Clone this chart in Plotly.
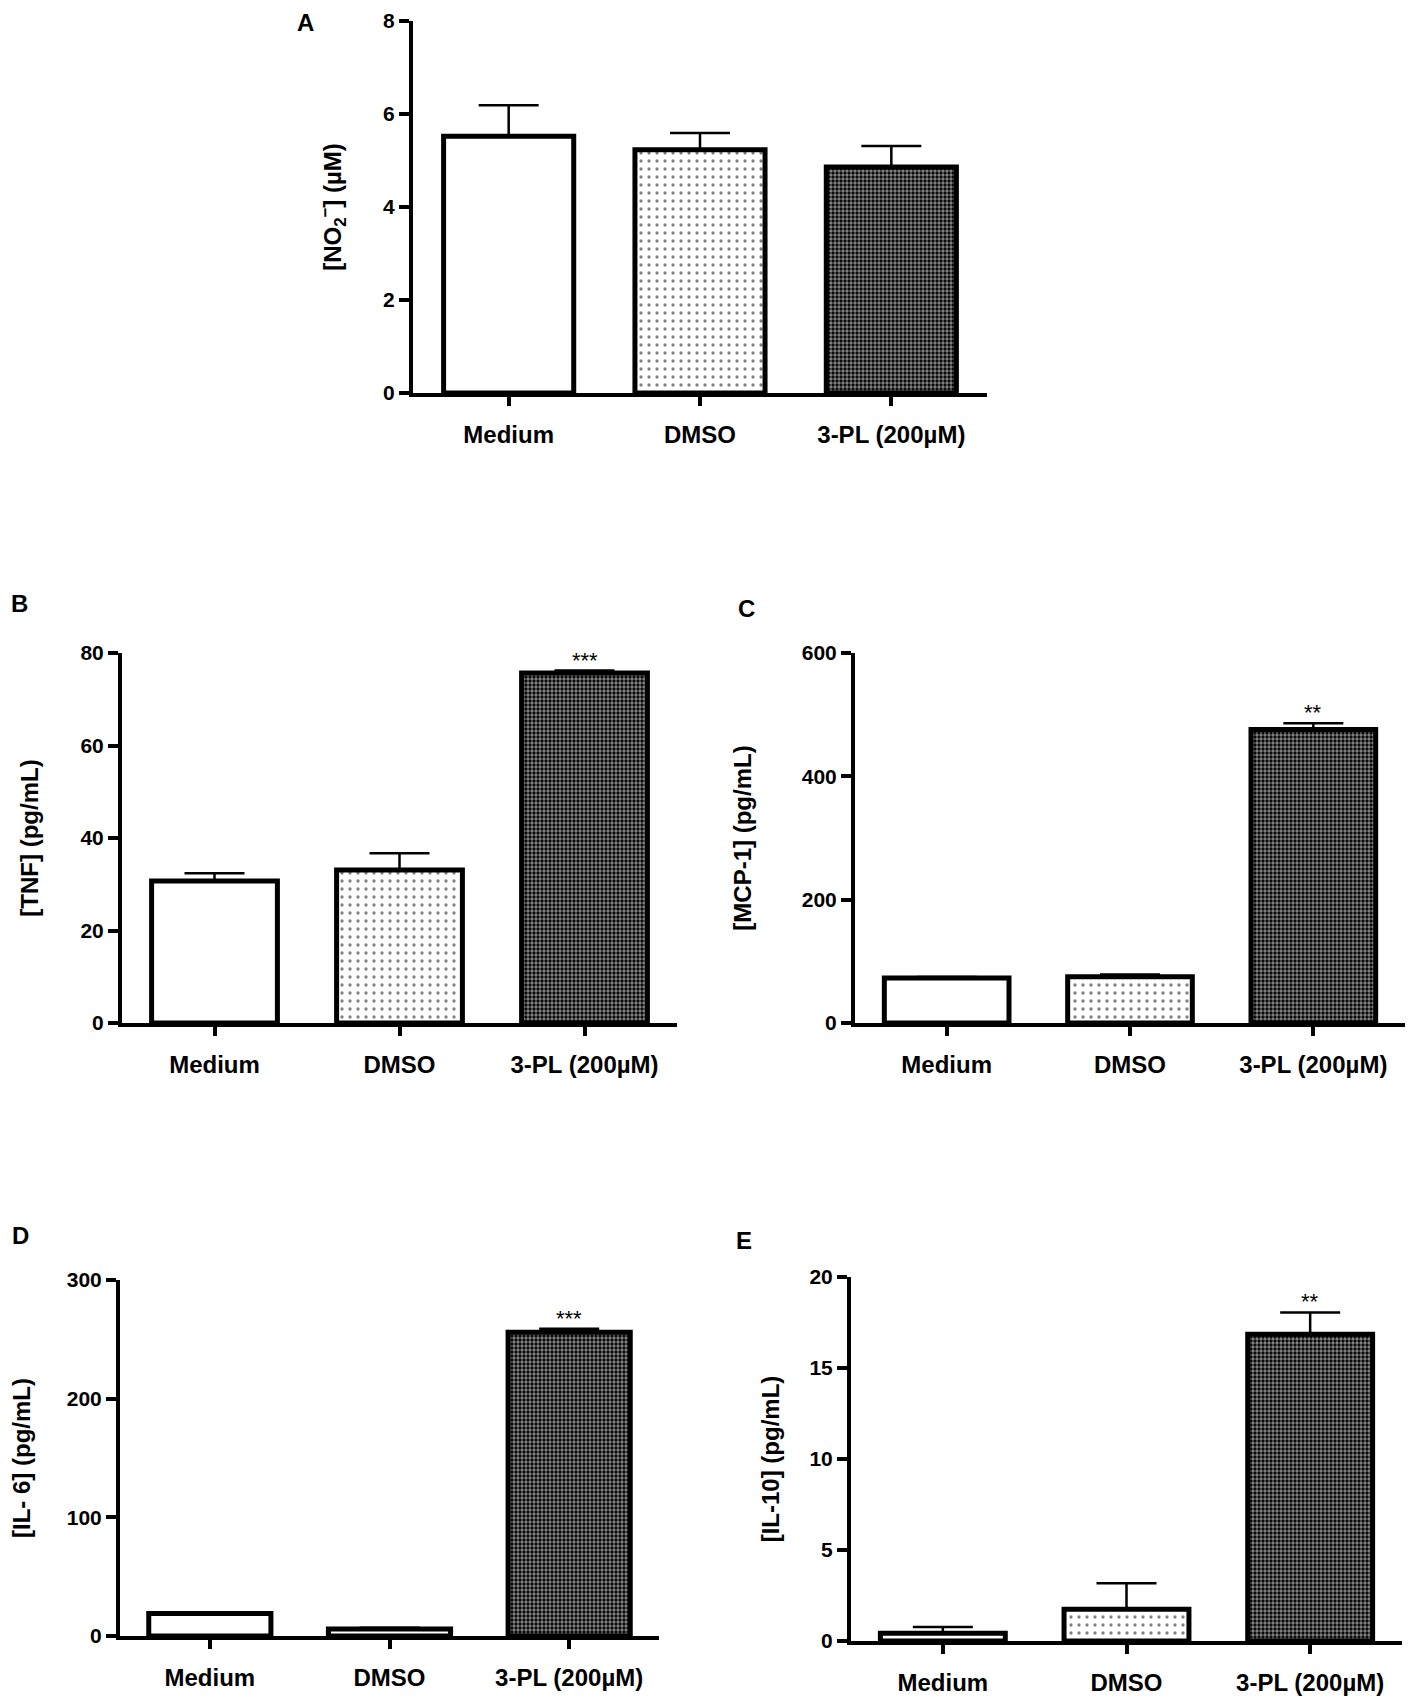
import plotly.graph_objects as go

# Données (moyenne + erreur vers le haut)
groupes = ["Medium", "DMSO", "3-PL (200µM)"]

no2_moy = [5.52, 5.23, 4.86]
no2_err = [0.67, 0.36, 0.45]

tnf_moy = [30.7, 33.1, 75.7]
tnf_err = [1.7, 3.6, 0.5]

mcp1_moy = [73, 75, 476]
mcp1_err = [1.5, 3.5, 10]

il6_moy = [19, 6, 256]
il6_err = [0.6, 1.0, 3]

il10_moy = [0.42, 1.74, 16.85]
il10_err = [0.35, 1.43, 1.2]

etoiles_tnf = ["", "", "***"]
etoiles_mcp1 = ["", "", "**"]
etoiles_il6 = ["", "", "***"]
etoiles_il10 = ["", "", "**"]

POLICE = "Liberation Sans, Arial, Helvetica, sans-serif"
# La page garde une marge de 8 px autour de la figure
DECALAGE = 8
W, H = 1417 - DECALAGE, 1700 - DECALAGE

# Motif de remplissage de chaque groupe (vide, points, damier)
motifs = [
    dict(shape="", bgcolor="white"),
    dict(shape=".", fgcolor="black", bgcolor="white", size=8,
         solidity=0.13, fillmode="overlay"),
    dict(shape=".", fgcolor="white", bgcolor="black", size=4,
         solidity=0.55, fillmode="overlay"),
]
couleurs = ["white", "white", "black"]


def px_x(a, b):
    return [(a - DECALAGE) / W, (b - DECALAGE) / W]


def px_y(haut, bas):
    return [1 - (bas - DECALAGE) / H, 1 - (haut - DECALAGE) / H]


fig = go.Figure()


# Définir la fonction pour tracer un panneau
def tracer_panneau(num, moyennes, erreurs, titre_y, ymax, pas, etoiles,
                   dom_x, dom_y, recul):
    xa = "x" if num == 1 else "x{}".format(num)
    ya = "y" if num == 1 else "y{}".format(num)

    # Une barre par groupe pour garder chaque motif
    for i, g in enumerate(groupes):
        fig.add_trace(go.Bar(
            x=[g], y=[moyennes[i]], width=0.68,
            marker=dict(color=couleurs[i],
                        line=dict(color="black", width=5),
                        pattern=motifs[i]),
            error_y=dict(type="data", symmetric=False, array=[erreurs[i]],
                         arrayminus=[0], color="black",
                         thickness=2.5, width=30),
            xaxis=xa, yaxis=ya, showlegend=False,
        ))

    # Étoiles de significativité
    for g, m, e, s in zip(groupes, moyennes, erreurs, etoiles):
        if s:
            fig.add_annotation(x=g, y=m + e, xref=xa, yref=ya, text=s,
                               showarrow=False, yanchor="bottom", yshift=-4,
                               font=dict(family=POLICE, size=22, color="black"))

    cle_x = "xaxis" if num == 1 else "xaxis{}".format(num)
    cle_y = "yaxis" if num == 1 else "yaxis{}".format(num)
    fig.update_layout({
        cle_x: dict(domain=dom_x, anchor=ya, range=[-0.5, 2.5],
                    categoryorder="array", categoryarray=groupes,
                    automargin=False,
                    showline=True, linewidth=4, linecolor="black",
                    ticks="outside", ticklen=9, tickwidth=4, tickcolor="black",
                    ticklabelstandoff=8, showgrid=False, zeroline=False,
                    tickfont=dict(family=POLICE, size=24, color="black",
                                  weight="bold")),
        cle_y: dict(domain=dom_y, anchor=xa, range=[0, ymax], dtick=pas,
                    tick0=0, automargin=False, ticklabeloverflow="allow",
                    showline=True, linewidth=4, linecolor="black",
                    ticks="outside", ticklen=10, tickwidth=4,
                    tickcolor="black", showgrid=False, zeroline=False,
                    tickfont=dict(family=POLICE, size=21, color="black",
                                  weight="bold"),
                    title=dict(text=titre_y, standoff=recul,
                               font=dict(family=POLICE, size=24,
                                         color="black", weight="bold"))),
    })


tracer_panneau(1, no2_moy, no2_err, "[NO<sub>2</sub><sup>−</sup>] (µM)",
               8, 2, ["", "", ""], px_x(413, 987), px_y(21, 393), 36)
tracer_panneau(2, tnf_moy, tnf_err, "[TNF] (pg/mL)", 80, 20, etoiles_tnf,
               px_x(122, 677), px_y(653, 1023), 36)
tracer_panneau(3, mcp1_moy, mcp1_err, "[MCP-1] (pg/mL)", 600, 200,
               etoiles_mcp1, px_x(855, 1405), px_y(653, 1023), 44)
tracer_panneau(4, il6_moy, il6_err, "[IL- 6] (pg/mL)", 300, 100, etoiles_il6,
               px_x(120, 659), px_y(1280, 1636), 36)
tracer_panneau(5, il10_moy, il10_err, "[IL-10] (pg/mL)", 20, 5, etoiles_il10,
               px_x(851, 1402), px_y(1277, 1641), 24)

# Lettres des panneaux (A collée en haut de la page)
lettres = [("A", 305, 8, "top"), ("B", 19, 603, "middle"),
           ("C", 746, 608, "middle"), ("D", 20, 1235, "middle"),
           ("E", 744, 1240, "middle")]
for lettre, lx, ly, ancre in lettres:
    fig.add_annotation(x=(lx - DECALAGE) / W, y=1 - (ly - DECALAGE) / H,
                       xref="paper", yref="paper",
                       text=lettre, showarrow=False, xanchor="center",
                       yanchor=ancre, borderpad=0,
                       font=dict(family=POLICE, size=24, color="black",
                                 weight="bold"))

fig.update_layout(width=W, height=H, margin=dict(l=0, r=0, t=0, b=0),
                  paper_bgcolor="white", plot_bgcolor="white",
                  barmode="overlay")

fig.write_html("out.html")
